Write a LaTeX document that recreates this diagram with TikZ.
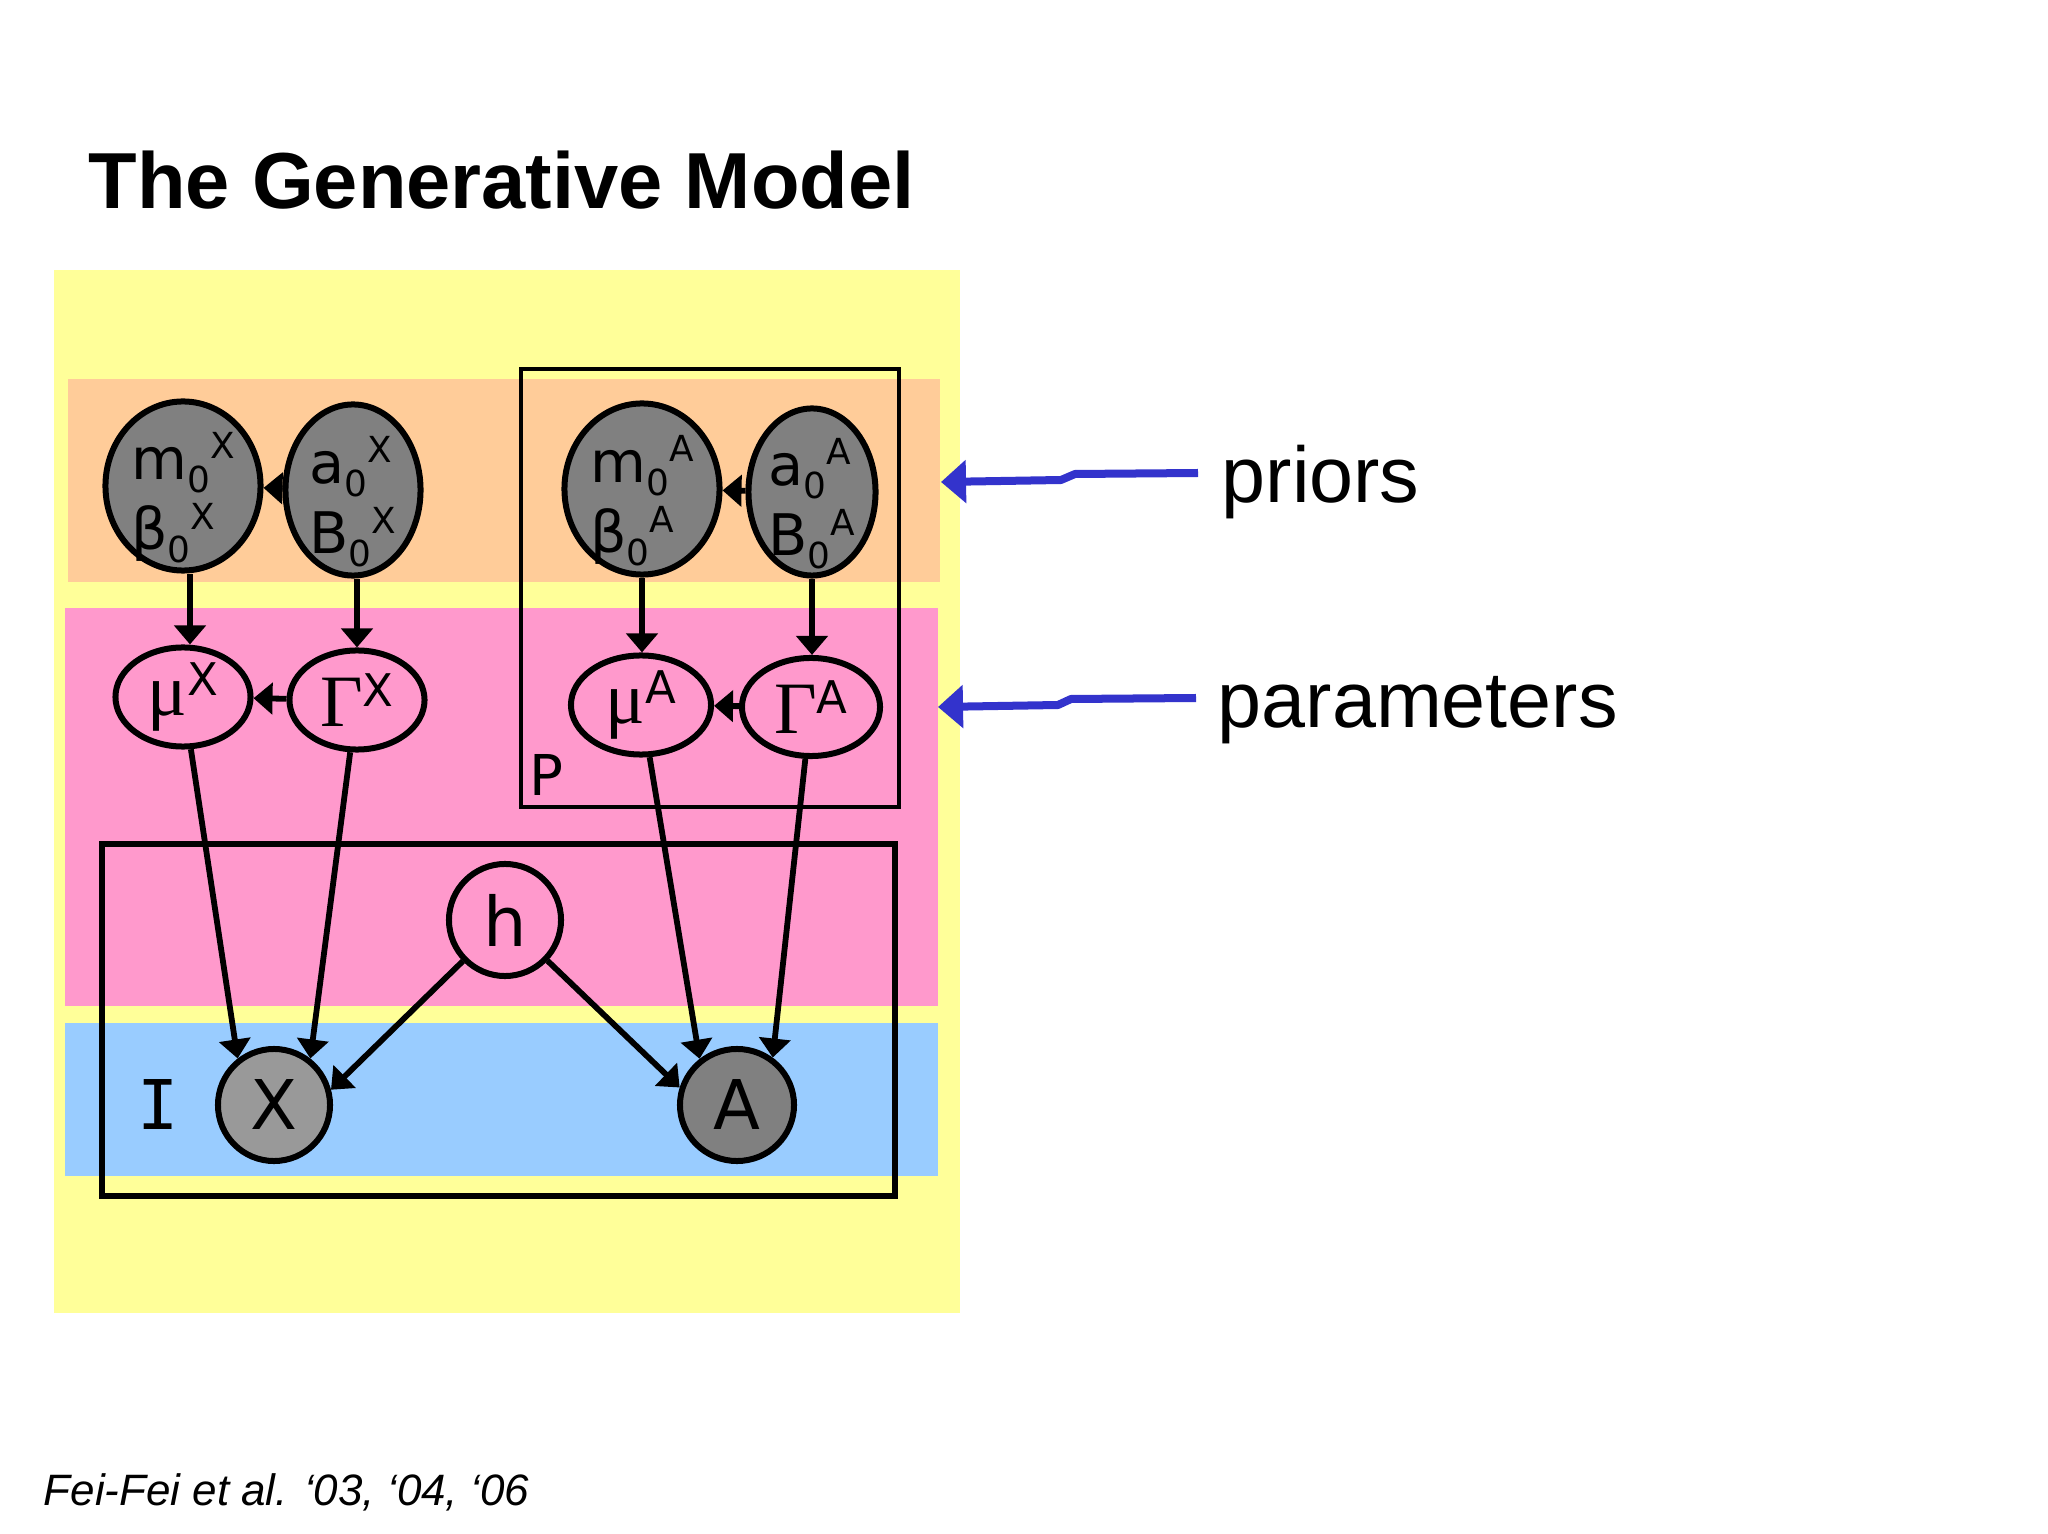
\documentclass[tikz,border=0pt]{standalone}
\usepackage{fontspec}
\setmainfont{DejaVu Sans}
\newfontfamily\arialf{Liberation Sans}
\newfontfamily\timesf{Liberation Serif}
\newfontfamily\monof{DejaVu Sans Mono}
\usetikzlibrary{shapes.geometric,arrows.meta}

\definecolor{bgyellow}{HTML}{FFFF99}
\definecolor{bandorange}{HTML}{FFCC99}
\definecolor{bandpink}{HTML}{FF99CC}
\definecolor{bandblue}{HTML}{99CCFF}
\definecolor{nodegray}{HTML}{808080}
\definecolor{nodegrayl}{HTML}{999999}
\definecolor{ptrblue}{HTML}{3333CC}

\newcommand\nsub[1]{\raisebox{-0.22em}{\fontsize{10.2pt}{10.2pt}\selectfont #1}}
\newcommand\nsupp[1]{\raisebox{0.36em}{\fontsize{10.2pt}{10.2pt}\selectfont #1}}
\newcommand\gsup[1]{\raisebox{5.5pt}{\fontsize{12.8pt}{13pt}\selectfont #1}}
\newcommand\gk[1]{{\timesf\fontsize{21pt}{22pt}\selectfont #1}}
\newcommand\ptext[2]{\raisebox{-8.5pt}[0pt][0pt]{\begin{tabular}{@{}l@{}}#1\\#2\end{tabular}}}

\tikzset{
  prior/.style={ellipse, draw, line width=0.6mm, fill=nodegray, inner sep=0pt,
    font=\fontsize{16.3pt}{20pt}\selectfont},
  param/.style={ellipse, draw, line width=0.6mm, inner sep=0pt},
  obsnode/.style={ellipse, draw, line width=0.6mm, inner sep=0pt,
    font=\fontsize{19.5pt}{20pt}\selectfont},
  conn/.style={-{Triangle[length=1.9mm,width=3.1mm]}, line width=0.58mm},
  ptr/.style={-{Triangle[length=2.5mm,width=4.2mm]}, line width=0.8mm, draw=ptrblue, fill=ptrblue, line join=round},
  plateP/.style={draw, line width=0.35mm},
  plateI/.style={draw, line width=0.55mm},
  annot/.style={anchor=base west, inner sep=0pt, font=\arialf\fontsize{22.5pt}{27pt}\selectfont},
}

\begin{document}
\begin{tikzpicture}[x=0.01cm,y=-0.01cm]
\useasboundingbox (0,0) rectangle (2048,1534);
\fill[white] (0,0) rectangle (2048,1534);

% background bands
\fill[bgyellow] (54,270) rectangle (960,1313);
\fill[bandorange] (68,379) rectangle (940,582);
\fill[bandpink] (65,608) rectangle (938,1006);
\fill[bandblue] (65,1023) rectangle (938,1176);

% plates
\draw[plateP] (521,369) rectangle (899,807);
\draw[plateI] (102,844) rectangle (895,1196);
\node[inner sep=0pt, font=\fontsize{16pt}{16pt}\selectfont] (plabel) at (546,775) {P};
\node[inner sep=0pt, font=\monof\fontsize{19.5pt}{20pt}\selectfont] (ilabel) at (158,1105) {I};

% title
\node[anchor=base west, inner sep=0pt, font=\arialf\bfseries\fontsize{22.6pt}{27pt}\selectfont] (title) at (88,209) {The Generative Model};

% prior nodes
\node[prior, minimum width=1.55cm, minimum height=1.69cm] (m0x) at (183,486)
  {\ptext{m\nsub{0}\nsupp{X}}{β\nsub{0}\nsupp{X}}};
\node[prior, minimum width=1.35cm, minimum height=1.71cm] (a0x) at (353,490)
  {\ptext{a\nsub{0}\nsupp{X}}{B\nsub{0}\nsupp{X}}};
\node[prior, minimum width=1.55cm, minimum height=1.71cm] (m0a) at (642,489)
  {\ptext{m\nsub{0}\nsupp{A}}{β\nsub{0}\nsupp{A}}};
\node[prior, minimum width=1.27cm, minimum height=1.67cm] (a0a) at (812,492)
  {\ptext{a\nsub{0}\nsupp{A}}{B\nsub{0}\nsupp{A}}};

% parameter nodes
\node[param, minimum width=1.35cm, minimum height=0.99cm] (mux) at (183,697) {\gk{μ}\gsup{X}};
\node[param, minimum width=1.35cm, minimum height=0.99cm] (gx) at (357,700) {\gk{Γ}\gsup{X}};
\node[param, minimum width=1.40cm, minimum height=0.99cm] (mua) at (641,705) {\gk{μ}\gsup{A}};
\node[param, minimum width=1.38cm, minimum height=0.98cm] (ga) at (811,707) {\gk{Γ}\gsup{A}};

% h, X, A
\node[obsnode, minimum width=1.12cm, minimum height=1.12cm] (h) at (505,920) {h};
\node[obsnode, fill=nodegrayl, minimum width=1.12cm, minimum height=1.12cm] (X) at (274,1105) {X};
\node[obsnode, fill=nodegray, minimum width=1.14cm, minimum height=1.12cm] (A) at (737,1105) {A};

% connectors
\draw[conn] ([xshift=0.7mm]m0x.south) -- ([xshift=0.7mm]mux.north);
\draw[conn] (gx.north |- a0x.south) -- (gx.north);
\draw[conn] (a0x) -- (m0x);
\draw[conn] (gx) -- (mux);
\draw[conn] (m0a.south) -- (m0a.south |- mua.north);
\draw[conn] (a0a.south) -- (a0a.south |- ga.north);
\draw[conn] (a0a) -- (m0a);
\draw[conn] (ga) -- (mua);
\draw[conn] (mux) -- (X.128);
\draw[conn] (gx) -- (X.52);
\draw[conn] (mua) -- (A.129);
\draw[conn] (ga) -- (A.53);
\draw[conn] (h) -- (X.15);
\draw[conn] (h) -- (A.163);

% annotations
\node[annot] (priors) at (1221,503) {priors};
\node[annot] (params) at (1217,728) {parameters};
\coordinate (pritip) at (941,482);
\coordinate (partip) at (938,707);
\draw[ptr] ([shift={(-23,-30)}]priors.base west) -- ++(-123,1) -- ++(-14,6) -- (pritip);
\draw[ptr] ([shift={(-21,-30)}]params.base west) -- ++(-125,1) -- ++(-13,6) -- (partip);

% citation
\node[anchor=base west, inner sep=0pt, font=\arialf\itshape\fontsize{12.5pt}{15pt}\selectfont] (cite) at (43,1505) {Fei-Fei et al. ‘03, ‘04, ‘06};
\end{tikzpicture}
\end{document}
